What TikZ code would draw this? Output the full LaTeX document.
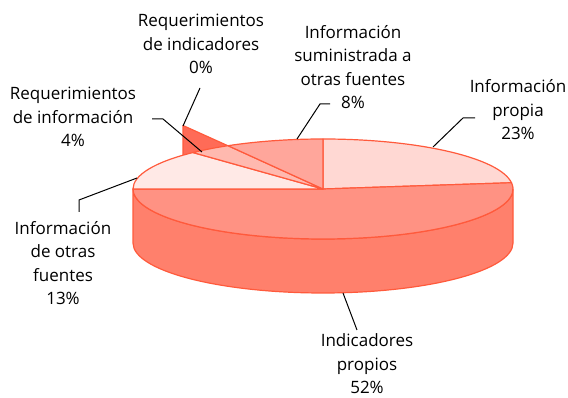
\documentclass[tikz,border=0pt]{standalone}
\usepackage{fontspec}
\setmainfont{Open Sans}
\usetikzlibrary{calc}
\definecolor{pieedge}{HTML}{FF5A3C}
\definecolor{wallred}{HTML}{FF6B57}
\definecolor{sidered}{HTML}{FF806C}
\definecolor{indpropcol}{HTML}{FF9283}
\definecolor{propiacol}{HTML}{FFD8D3}
\definecolor{otrascol}{HTML}{FFE9E6}
\definecolor{reqinfocol}{HTML}{FFB9AF}
\definecolor{sumincol}{HTML}{FFA69B}

\begin{document}
\begin{tikzpicture}[x=1pt,y=1pt,
    txt/.style={align=center,font=\fontsize{17}{23.5}\selectfont,inner sep=0pt},
    leader/.style={draw=black,line width=1pt},
    rim/.style={draw=pieedge,line width=1.2pt,line join=round}]
        \useasboundingbox (0,0) rectangle (568,398);
        \coordinate (c) at (323,209);

        % exploded 0% slice, only its wall shows
        \filldraw[rim,fill=wallred] (183,272.5) -- (275,231) -- (275,177) -- (183,218.5) -- cycle;

        % front side of the pie
        \filldraw[rim,fill=sidered] ($(c)+(-190,0)$) arc[start angle=180,end angle=360,x radius=190pt,y radius=50pt]
            -- ++(0,-54) arc[start angle=360,end angle=180,x radius=190pt,y radius=50pt] -- cycle;

        % top of the pie
        \foreach \a/\b/\col in {90/7.2/propiacol, 7.2/-180/indpropcol, 180/133.2/otrascol, 133.2/120/reqinfocol, 120/90/sumincol}
            \filldraw[rim,fill=\col] (c) -- ($(c)+(\a:190 and 50)$) arc[start angle=\a,end angle=\b,x radius=190pt,y radius=50pt] -- cycle;

        % labels
        \node[txt] (reqind) at (201,354) {Requerimientos\\de indicadores\\0\%};
        \node[txt] (sumin) at (353,331) {Información\\suministrada a\\otras fuentes\\8\%};
        \node[txt] (propia) at (518,288) {Información\\propia\\23\%};
        \node[txt] (reqinfo) at (73,281) {Requerimientos\\de información\\4\%};
        \node[txt] (otras) at (63,135) {Información\\de otras\\fuentes\\13\%};
        \node[txt] (indprop) at (367,34) {Indicadores\\propios\\52\%};

        % leader ends
        \coordinate (reqind-a) at (200,310);
        \coordinate (reqind-b) at (183,272);
        \coordinate (sumin-a) at (330,294);
        \coordinate (sumin-b) at (297,259);
        \coordinate (propia-a) at (475,280);
        \coordinate (propia-b) at (433,251);
        \coordinate (reqinfo-a) at (152,279);
        \coordinate (reqinfo-b) at (202,246);
        \coordinate (otras-a) at (79,186);
        \coordinate (otras-b) at (137,220);
        \coordinate (indprop-a) at (357,68);
        \coordinate (indprop-b) at (343,105);

        \draw[leader] (reqind-a) -- (reqind-b);
        \draw[leader] (sumin-a) -- ++(-10,0) -- (sumin-b);
        \draw[leader] (propia-a) -- ++(-12,0) -- (propia-b);
        \draw[leader] (reqinfo-a) -- ++(11,0) -- (reqinfo-b);
        \draw[leader] (otras-a) -- ++(0,12) -- (otras-b);
        \draw[leader] (indprop-a) -- (indprop-b);
    \end{tikzpicture}
\end{document}
